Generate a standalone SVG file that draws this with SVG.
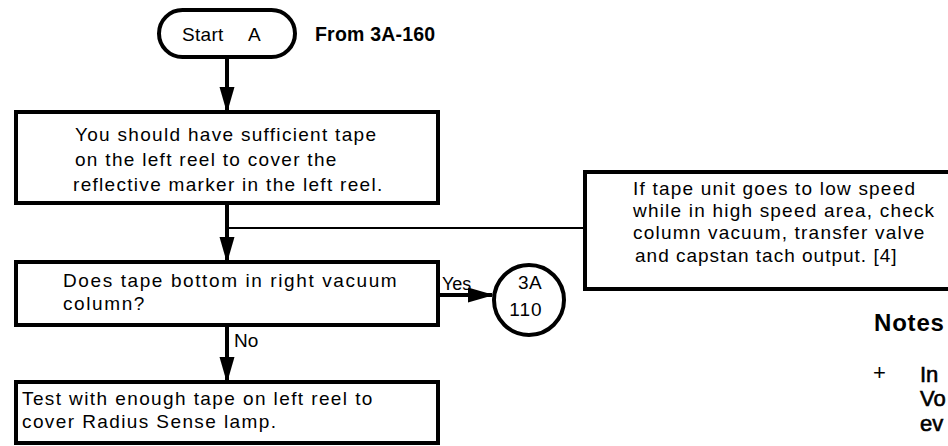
<svg xmlns="http://www.w3.org/2000/svg" width="948" height="446" viewBox="0 0 948 446">
<style>
  .box{fill:#fff;stroke:#000;stroke-width:4}
  .t{font-family:"Liberation Sans",Arial,sans-serif;font-size:19px;fill:#000;letter-spacing:1.3px}
  .lbl{font-family:"Liberation Sans",Arial,sans-serif;font-size:18px;fill:#000}
  .bold{font-family:"Liberation Sans",Arial,sans-serif;font-weight:bold;fill:#000}
  .nt{font-family:"Liberation Sans",Arial,sans-serif;font-size:22px;fill:#000;stroke:#000;stroke-width:0.6px}
  .ln{stroke:#000;stroke-width:4;fill:none}
  .thin{stroke:#000;stroke-width:2;fill:none}
</style>
<defs>
  <marker id="av" markerUnits="userSpaceOnUse" markerWidth="26" markerHeight="16" refX="24" refY="7.5" orient="auto" viewBox="0 0 26 15">
    <path d="M0,0 L26,7.5 L0,15 Z" fill="#000"/>
  </marker>
</defs>

<g id="start">
  <rect class="box" x="159" y="10" width="136" height="47" rx="23.5" ry="23.5"/>
  <text class="t" x="182" y="41" style="letter-spacing:0.3px">Start</text>
  <text class="t" x="248" y="41">A</text>
  <text class="bold" x="315" y="41" style="font-size:19.5px;letter-spacing:0.2px">From 3A-160</text>
</g>

<g id="box1">
  <rect class="box" x="16" y="112" width="422" height="91"/>
  <text class="t" x="75" y="141">You should have sufficient tape</text>
  <text class="t" x="75" y="166">on the left reel to cover the</text>
  <text class="t" x="73" y="191">reflective marker in the left reel.</text>
</g>

<g id="note">
  <rect class="box" x="585" y="172" width="380" height="117"/>
  <text class="t" x="633" y="195" style="letter-spacing:1.2px">If tape unit goes to low speed</text>
  <text class="t" x="633" y="217" style="letter-spacing:1.2px">while in high speed area, check</text>
  <text class="t" x="633" y="239" style="letter-spacing:1.2px">column vacuum, transfer valve</text>
  <text class="t" x="635" y="262" style="letter-spacing:1px">and capstan tach output. [4]</text>
</g>

<g id="box2">
  <rect class="box" x="16" y="262" width="422" height="63"/>
  <text class="t" x="63" y="287" style="letter-spacing:1.6px">Does tape bottom in right vacuum</text>
  <text class="t" x="63" y="310" style="letter-spacing:1.6px">column?</text>
</g>

<g id="conn3A110">
  <circle class="box" cx="529" cy="300" r="35"/>
  <text class="t" x="530" y="289" text-anchor="middle" style="letter-spacing:0.5px">3A</text>
  <text class="t" x="526" y="316" text-anchor="middle" style="letter-spacing:1px">110</text>
</g>

<g id="box3">
  <rect class="box" x="16" y="382" width="422" height="61"/>
  <text class="t" x="22" y="405" style="letter-spacing:1.4px">Test with enough tape on left reel to</text>
  <text class="t" x="22" y="428" style="letter-spacing:1.4px">cover Radius Sense lamp.</text>
</g>

<g id="connectors">
  <line class="ln" x1="227" y1="57" x2="227" y2="111" marker-end="url(#av)"/>
  <line class="ln" x1="227" y1="203" x2="227" y2="261" marker-end="url(#av)"/>
  <line class="thin" x1="227" y1="228" x2="585" y2="228"/>
  <line class="ln" x1="227" y1="325" x2="227" y2="381" marker-end="url(#av)"/>
  <line class="ln" x1="440" y1="295" x2="492" y2="295" marker-end="url(#av)"/>
  <text class="lbl" x="442" y="290">Yes</text>
  <text class="lbl" x="234" y="347" style="font-size:19px">No</text>
</g>

<g id="notes">
  <text class="bold" x="874" y="331" style="font-size:24px;letter-spacing:0.8px">Notes</text>
  <text class="t" x="873" y="380" style="font-size:22px">+</text>
  <text class="nt" x="920" y="382">In</text>
  <text class="nt" x="920" y="406">Vo</text>
  <text class="nt" x="920" y="431">ev</text>
</g>
</svg>
